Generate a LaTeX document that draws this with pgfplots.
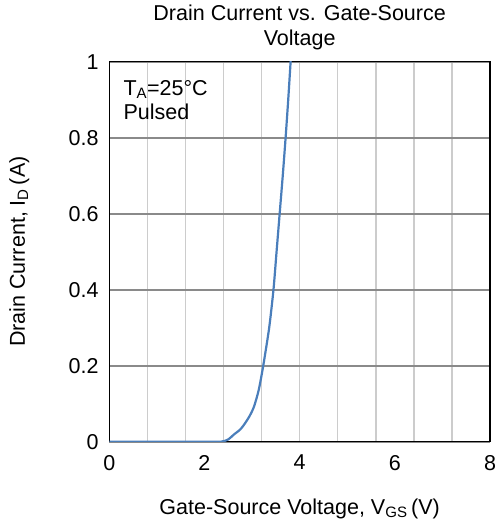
\documentclass[border=0pt]{standalone}
\usepackage{pgfplots}
\pgfplotsset{compat=1.18}
\usepackage{fontspec}
\setmainfont{Liberation Sans}
\definecolor{curveblue}{HTML}{4A7EBB}
\definecolor{hgrid}{HTML}{8A8A8A}
\definecolor{vgrid}{HTML}{CCCCCC}

\begin{document}
\begin{tikzpicture}[x=1pt,y=1pt]
% fix page size to reference proportions (1px = 1pt)
\path[use as bounding box] (-109.3,-82.3) rectangle (385.7,441.7);
\begin{axis}[
    at={(0,0)}, anchor=south west,
    scale only axis,
    width=380.7pt, height=380pt,
    xmin=0, xmax=8, ymin=0, ymax=1,
    xtick={0,2,4,6,8},
    minor xtick={0.8,1.6,2.4,3.2,4.0,4.8,5.6,6.4,7.2},
    ytick={0,0.2,0.4,0.6,0.8,1},
    xminorgrids=true, ymajorgrids=true, xmajorgrids=false,
    minor grid style={vgrid, line width=1.5pt},
    major grid style={hgrid, line width=2pt},
    major tick length=0pt, minor tick length=0pt,
    axis line style={black, line width=1.5pt},
    tick label style={font=\fontsize{21.5}{25}\selectfont},
    /pgf/number format/assume math mode=true,
    xticklabel style={anchor=north, inner sep=0pt, yshift=-13.3pt},
    yticklabel style={anchor=east, inner sep=0pt, xshift=-10.5pt},
    title={Drain Current vs. Gate-Source\\Voltage},
    title style={font=\fontsize{21.5}{25}\selectfont, align=center,
        at={(rel axis cs:0.5,1)}, anchor=base, inner sep=0pt, yshift=10pt},
    xlabel={Gate-Source Voltage, V\textsubscript{GS}\,(V)},
    xlabel style={font=\fontsize{21.5}{25}\selectfont,
        at={(rel axis cs:0.5,0)}, anchor=base, inner sep=0pt, yshift=-72.3pt},
    ylabel={Drain Current, I\textsubscript{D}\,(A)},
    % label is already turned by 90 degrees, so yshift moves it left
    ylabel style={font=\fontsize{21.5}{25}\selectfont,
        at={(rel axis cs:0,0.5)}, anchor=base, inner sep=0pt, yshift=84.3pt},
]

\addplot[curveblue, line width=2.2pt, smooth, tension=0.4] coordinates {
    (0,0) (1.0,0) (2.0,0) (2.35,0) (2.5,0.006) (2.61,0.018)
    (2.75,0.032) (2.85,0.048) (2.95,0.068) (3.04,0.092)
    (3.14,0.136) (3.235,0.2) (3.36,0.3) (3.45,0.4) (3.515,0.5)
    (3.58,0.6) (3.645,0.7) (3.705,0.8) (3.76,0.9) (3.81,1.0) (3.83,1.04)
};

\node[anchor=base west, align=left, inner sep=0pt,
      font=\fontsize{21.5}{24.3}\selectfont]
    at (rel axis cs:0.0368,0.848) {T\textsubscript{A}=25°C\\Pulsed};

\end{axis}
\end{tikzpicture}
\end{document}
